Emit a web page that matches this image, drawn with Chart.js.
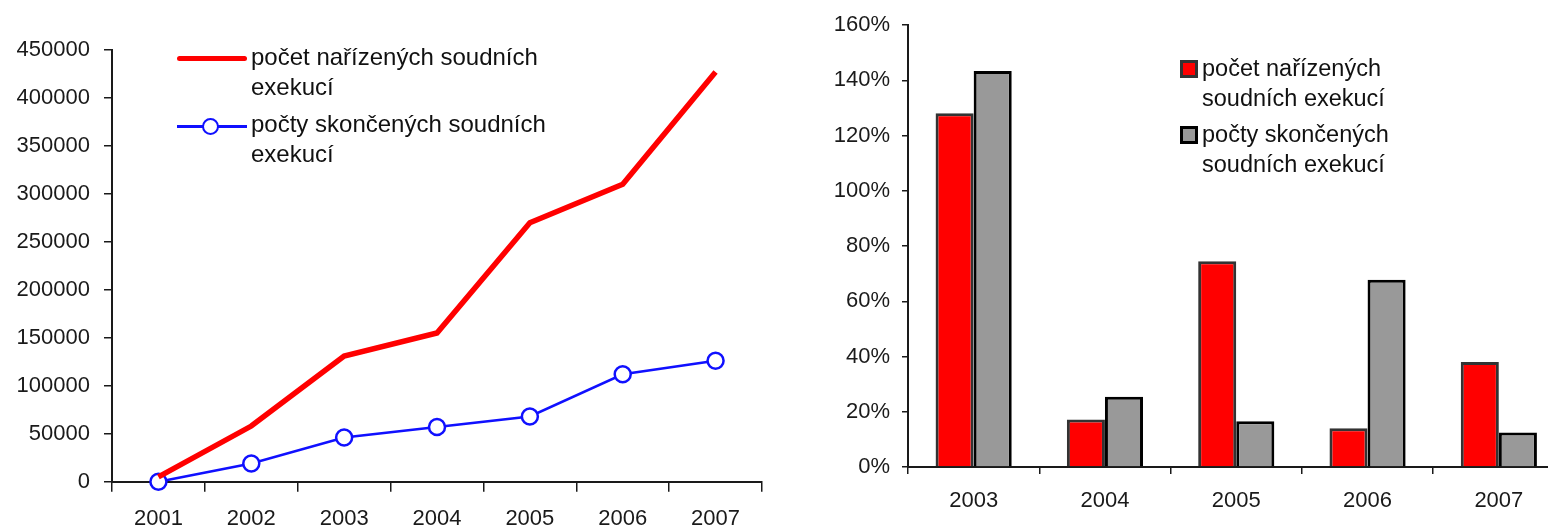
<!DOCTYPE html>
<html lang="cs">
<head>
<meta charset="utf-8">
<script src="https://cdn.jsdelivr.net/npm/chart.js@4.4.1/dist/chart.umd.min.js"></script>
<style>
  html, body { margin: 0; padding: 0; background: #fff; }
  body { width: 1548px; height: 530px; overflow: hidden; position: relative; font-family: "Liberation Sans", Arial, sans-serif; }
  .box { position: absolute; top: 0; height: 530px; }
  .leg { position: absolute; color: #111; white-space: nowrap; }
  .legtext { position: absolute; line-height: 30px; }
</style>
</head>
<body>
<div class="box" style="left:0;width:780px;"><canvas id="lineChart"></canvas></div>
<div class="box" style="left:790px;width:800px;"><canvas id="barChart"></canvas></div>
<div id="legLeft"></div>
<div id="legRight"></div>
<script>
// ---- data ----
const years = ['2001', '2002', '2003', '2004', '2005', '2006', '2007'];
const orderedCount = [5000, 58000, 131000, 155000, 270000, 310000, 427000];
const finishedCount = [0, 19000, 46000, 57000, 68000, 112000, 126000];

const growthYears = ['2003', '2004', '2005', '2006', '2007'];
const orderedGrowth = [128.1, 17.2, 74.5, 14.0, 38.0];
const finishedGrowth = [143.4, 25.4, 16.6, 67.8, 12.5];

const lineLabels = [['počet nařízených soudních', 'exekucí'], ['počty skončených soudních', 'exekucí']];
const barLabels = [['počet nařízených', 'soudních exekucí'], ['počty skončených', 'soudních exekucí']];

const tickFont = { family: '"Liberation Sans", Arial, sans-serif', size: 22 };
const tickColor = '#1a1a1a';
const axisColor = '#1a1a1a';

// ---- left: line chart ----
new Chart(document.getElementById('lineChart'), {
  type: 'line',
  data: {
    labels: years,
    datasets: [
      { label: lineLabels[0].join(' '), data: orderedCount, borderColor: '#ff0000', borderWidth: 5.5,
        pointRadius: 0, pointHoverRadius: 0, tension: 0, fill: false, clip: false },
      { label: lineLabels[1].join(' '), data: finishedCount, borderColor: '#1010ff', borderWidth: 2.5,
        pointRadius: 8, pointBorderWidth: 2.5, pointBackgroundColor: '#ffffff', pointBorderColor: '#1010ff',
        tension: 0, fill: false, clip: false }
    ]
  },
  options: {
    responsive: true, maintainAspectRatio: false, animation: false,
    layout: { padding: { top: 50, right: 18, left: 0, bottom: 0 } },
    plugins: { legend: { display: false }, tooltip: { enabled: false } },
    scales: {
      x: {
        offset: true,
        grid: { offset: true, drawOnChartArea: false, drawTicks: true, tickLength: 10, color: axisColor, lineWidth: 1.5 },
        border: { display: true, color: axisColor, width: 2 },
        ticks: { font: tickFont, color: tickColor, padding: 14, maxRotation: 0 },
        afterFit: s => { s.height = 48.3; }
      },
      y: {
        min: 0, max: 450000,
        grid: { drawOnChartArea: false, drawTicks: true, tickLength: 8, color: axisColor, lineWidth: 1.5 },
        border: { display: true, color: axisColor, width: 2 },
        ticks: { stepSize: 50000, font: tickFont, color: tickColor, padding: 14, callback: v => String(v) },
        afterFit: s => { s.width = 112; }
      }
    }
  }
});

// ---- right: bar chart ----
new Chart(document.getElementById('barChart'), {
  type: 'bar',
  data: {
    labels: growthYears,
    datasets: [
      { label: barLabels[0].join(' '), data: orderedGrowth, backgroundColor: '#ff0000', borderColor: '#333333',
        borderWidth: 3, categoryPercentage: 0.58, barPercentage: 1.0 },
      { label: barLabels[1].join(' '), data: finishedGrowth, backgroundColor: '#999999', borderColor: '#000000',
        borderWidth: 3, categoryPercentage: 0.58, barPercentage: 1.0 }
    ]
  },
  options: {
    responsive: true, maintainAspectRatio: false, animation: false,
    layout: { padding: { top: 24, right: 25.5, left: 0, bottom: 0 } },
    plugins: { legend: { display: false }, tooltip: { enabled: false } },
    scales: {
      x: {
        grid: { offset: true, drawOnChartArea: false, drawTicks: true, tickLength: 7, color: axisColor, lineWidth: 1.5 },
        border: { display: true, color: axisColor, width: 2 },
        ticks: { font: tickFont, color: tickColor, padding: 14, maxRotation: 0 },
        afterFit: s => { s.height = 63; }
      },
      y: {
        min: 0, max: 160,
        grid: { drawOnChartArea: false, drawTicks: true, tickLength: 6, color: axisColor, lineWidth: 1.5 },
        border: { display: true, color: axisColor, width: 2 },
        ticks: { stepSize: 20, font: tickFont, color: tickColor, padding: 12, callback: v => v + '%' },
        afterFit: s => { s.width = 118; }
      }
    }
  }
});

// ---- legends (HTML text) ----
function addText(parent, lines, left, top, size) {
  const d = document.createElement('div');
  d.className = 'legtext';
  d.style.left = left + 'px';
  d.style.top = top + 'px';
  d.style.fontSize = size + 'px';
  d.innerHTML = lines.map(l => l.replace(/&/g, '&amp;')).join('<br>');
  parent.appendChild(d);
}
const legL = document.getElementById('legLeft');
legL.className = 'leg';
legL.style.left = '0px'; legL.style.top = '0px';
legL.insertAdjacentHTML('beforeend',
  '<div style="position:absolute;left:177px;top:55.5px;width:70px;height:5.5px;background:#ff0000;border-radius:3px"></div>' +
  '<div style="position:absolute;left:177px;top:124.5px;width:70px;height:3px;background:#1010ff"></div>' +
  '<div style="position:absolute;left:202px;top:117.5px;width:17px;height:17px;box-sizing:border-box;border:2.5px solid #1010ff;border-radius:50%;background:#fff"></div>');
addText(legL, lineLabels[0], 251, 41.5, 24);
addText(legL, lineLabels[1], 251, 109, 24);

const legR = document.getElementById('legRight');
legR.className = 'leg';
legR.style.left = '0px'; legR.style.top = '0px';
legR.insertAdjacentHTML('beforeend',
  '<div style="position:absolute;left:1180px;top:59.5px;width:18px;height:18px;box-sizing:border-box;border:3px solid #333;background:#ff0000"></div>' +
  '<div style="position:absolute;left:1180px;top:126px;width:18px;height:18px;box-sizing:border-box;border:3px solid #000;background:#999999"></div>');
addText(legR, barLabels[0], 1202, 52.5, 23.5);
addText(legR, barLabels[1], 1202, 119, 23.5);
</script>
</body>
</html>
